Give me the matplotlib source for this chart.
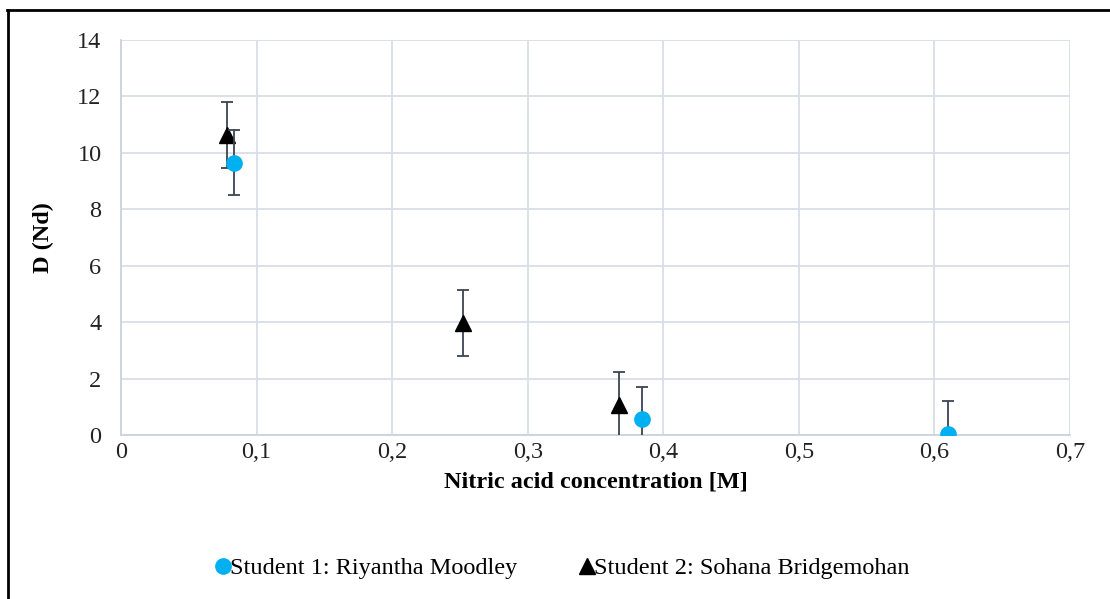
import matplotlib
matplotlib.use("Agg")
import matplotlib.pyplot as plt
from matplotlib.lines import Line2D

plt.rcParams['font.family'] = ['Liberation Serif', 'DejaVu Serif']

s1_x = [0.083, 0.384, 0.610]
s1_y = [9.65, 0.55, 0.05]
s1_err = [1.15, 1.15, 1.15]

s2_x = [0.078, 0.252, 0.367]
s2_y = [10.65, 3.98, 1.06]
s2_err = [1.17, 1.17, 1.17]

s1_label = "Student 1: Riyantha Moodley"
s2_label = "Student 2: Sohana Bridgemohan"

xticks = [0, 0.1, 0.2, 0.3, 0.4, 0.5, 0.6, 0.7]
xtick_labels = ["0", "0,1", "0,2", "0,3", "0,4", "0,5", "0,6", "0,7"]
yticks = [0, 2, 4, 6, 8, 10, 12, 14]

FS = 17.5
W, H = 1110, 599
fig = plt.figure(figsize=(W / 100, H / 100), dpi=100)
ax = fig.add_axes([121 / W, 1 - 435 / H, (1070 - 121) / W, (435 - 40) / H])

grid_c = "#D9DEE7"
err_c = "#3B4453"

ax.errorbar(s2_x, s2_y, yerr=s2_err, fmt='^', color='black', markersize=11,
            ecolor=err_c, elinewidth=1.3, capsize=4.5, capthick=1.3, zorder=3)
ax.errorbar(s1_x, s1_y, yerr=s1_err, fmt='o', color='#00B0F0', markersize=11,
            ecolor=err_c, elinewidth=1.3, capsize=4.5, capthick=1.3, zorder=4)

ax.set_xlim(0, 0.7)
ax.set_ylim(0, 14)
ax.set_xticks(xticks)
ax.set_xticklabels(xtick_labels)
ax.set_yticks(yticks)
ax.tick_params(length=0, labelsize=FS, colors='#222222')
ax.tick_params(axis='x', pad=5)
ax.tick_params(axis='y', pad=14)
ax.grid(True, color=grid_c, linewidth=1.3)
ax.set_axisbelow(True)
for side in ['top', 'right']:
    ax.spines[side].set_visible(False)
for side in ['left', 'bottom']:
    ax.spines[side].set_color("#CCD2DE")
    ax.spines[side].set_linewidth(1.3)

ax.set_xlabel("Nitric acid concentration [M]", fontsize=FS, fontweight='bold', labelpad=6)
ax.set_ylabel("D (Nd)", fontsize=FS, fontweight='bold', labelpad=17)

handles = [Line2D([], [], marker='o', color='#00B0F0', linestyle='none', markersize=11),
           Line2D([], [], marker='^', color='black', linestyle='none', markersize=11)]
fig.legend(handles, [s1_label, s2_label], loc='center', bbox_to_anchor=(563 / W, 1 - 568 / H),
           ncol=2, frameon=False, fontsize=FS, handlelength=0.5, handletextpad=0.05,
           columnspacing=2.6)

# chart frame (left and top edges)
fig.add_artist(Line2D([8 / W, 8 / W], [0, 1 - 10 / H], color='black', linewidth=2,
                      transform=fig.transFigure))
fig.add_artist(Line2D([7 / W, 1], [1 - 10 / H, 1 - 10 / H], color='black', linewidth=2,
                      transform=fig.transFigure))

fig.savefig("out.png", dpi=100)
